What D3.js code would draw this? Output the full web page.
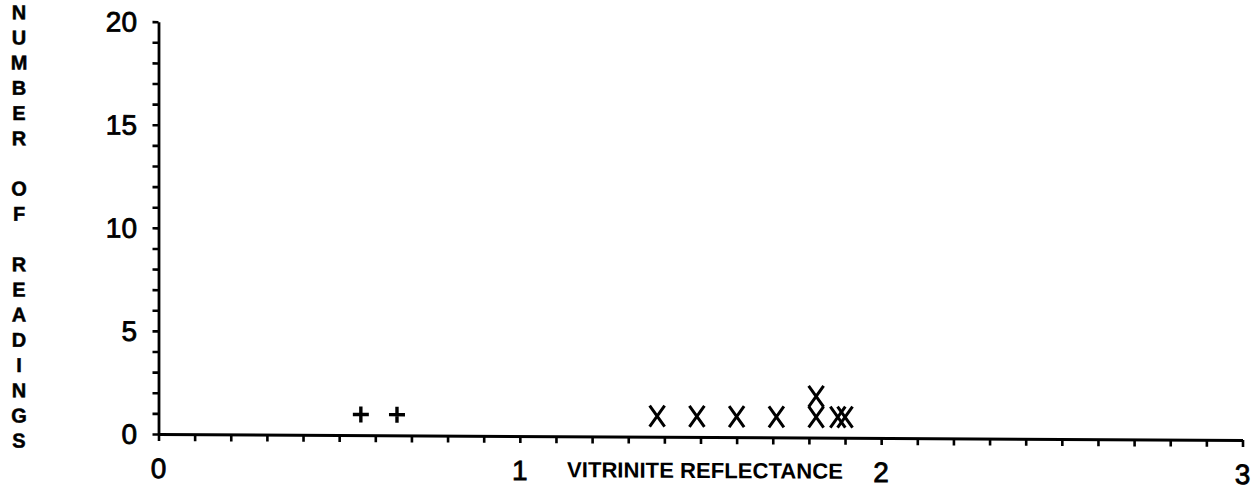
<!DOCTYPE html>
<html>
<head>
<meta charset="utf-8">
<script src="https://cdn.jsdelivr.net/npm/d3@7"></script>
<style>
  html, body { margin: 0; padding: 0; background: #fff; }
  svg { display: block; }
</style>
</head>
<body>
<svg id="chart" width="1256" height="489"></svg>
<script>
// ---- data ----
const xMajorTicks = [0, 1, 2, 3];
const yMajorTicks = [0, 5, 10, 15, 20];
const plusX = [0.56, 0.66];
const plusCount = [1, 1];
const crossX = [1.38, 1.49, 1.60, 1.71, 1.82, 1.82, 1.88, 1.90];
const crossCount = [1, 1, 1, 1, 1, 2, 1, 1];
const yLabel = "NUMBER OF READINGS";
const xLabel = "VITRINITE REFLECTANCE";

// ---- layout ----
const svg = d3.select("#chart");
const ox = 158.5, oy = 434;
const g = svg.append("g")
  .attr("transform", `translate(${ox},0) skewY(0.317) translate(${-ox},0)`);

const x = d3.scaleLinear().domain([0, 3]).range([ox, 1242.5]);
const y = d3.scaleLinear().domain([0, 20]).range([oy, 21.7]);

const font = "'Liberation Sans', Arial, Helvetica, sans-serif";

// x axis (ticks every 0.1)
const xAxis = d3.axisBottom(x)
  .tickValues(d3.range(0, 31).map(i => i / 10))
  .tickSize(7).tickSizeOuter(0).tickFormat("");
const gx = g.append("g").attr("transform", `translate(0,${oy})`).call(xAxis);
gx.select(".domain").attr("stroke", "#000").attr("stroke-width", 3);
gx.selectAll(".tick line").attr("stroke", "#000").attr("stroke-width", 2.6);

// y axis (ticks every 1)
const yAxis = d3.axisLeft(y)
  .tickValues(d3.range(0, 21))
  .tickSize(6).tickSizeOuter(0).tickFormat("");
const gy = g.append("g").attr("transform", `translate(${ox},0)`).call(yAxis);
gy.select(".domain").attr("stroke", "#000").attr("stroke-width", 2.8);
gy.selectAll(".tick line").attr("stroke", "#000").attr("stroke-width", 2.6);

// tick labels
g.selectAll(".ylab").data(yMajorTicks).enter().append("text")
  .attr("x", 137).attr("y", d => y(d) + 10)
  .attr("text-anchor", "end")
  .attr("font-family", font).attr("font-size", 28)
  .attr("stroke", "#000").attr("stroke-width", 0.8)
  .text(d => d);

g.selectAll(".xlab").data(xMajorTicks).enter().append("text")
  .attr("x", d => x(d)).attr("y", oy + 44)
  .attr("text-anchor", "middle")
  .attr("font-family", font).attr("font-size", 28)
  .attr("stroke", "#000").attr("stroke-width", 0.8)
  .text(d => d);

// axis titles
g.append("text")
  .attr("x", 567).attr("y", oy + 41)
  .attr("font-family", font).attr("font-size", 22).attr("font-weight", "bold")
  .attr("textLength", 276).attr("lengthAdjust", "spacingAndGlyphs")
  .text(xLabel);

g.selectAll(".ychar").data(yLabel.split("")).enter().append("text")
  .attr("x", 19).attr("y", (d, i) => 13 + i * 25.2 + 7)
  .attr("text-anchor", "middle")
  .attr("font-family", font).attr("font-size", 20).attr("font-weight", "bold")
  .attr("stroke", "#000").attr("stroke-width", 0.5)
  .text(d => d);

// markers: plus
const plusData = plusX.map((v, i) => ({ x: v, c: plusCount[i] }));
g.selectAll(".plus").data(plusData).enter().append("path")
  .attr("transform", d => `translate(${x(d.x)},${y(d.c)})`)
  .attr("d", "M-8,0H8M0,-8V8")
  .attr("stroke", "#000").attr("stroke-width", 3.4).attr("fill", "none");

// markers: cross
const crossData = crossX.map((v, i) => ({ x: v, c: crossCount[i] }));
g.selectAll(".cross").data(crossData).enter().append("path")
  .attr("transform", d => `translate(${x(d.x)},${y(d.c)})`)
  .attr("d", "M-7.5,-10.5L7.5,10.5M7.5,-10.5L-7.5,10.5")
  .attr("stroke", "#000").attr("stroke-width", 3).attr("fill", "none");
</script>
</body>
</html>
